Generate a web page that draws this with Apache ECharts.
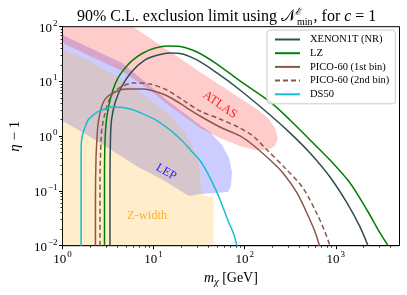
<!DOCTYPE html>
<html><head><meta charset="utf-8">
<script src="https://cdn.jsdelivr.net/npm/echarts@6/dist/echarts.min.js"></script>
<style>html,body{margin:0;padding:0;background:#fff}#c{width:407px;height:295px}</style>
</head><body><div id="c"></div><script>
// ---- data ----
const xenonX = [3.32,3.32,3.36,3.45,3.77,4.44,5.72,8.05,11.2,15.1,19.5,29.9,49.6,88.7,190,314,521,863,1327,1843,2255];
const xenonY = [0.01,0.158,0.853,1.98,4.04,7.92,14.9,24.7,30.4,33.1,32.4,24.7,14.3,6.98,2.44,1.15,0.493,0.180,0.0603,0.0220,0.01];
const lzX = [2.89,2.89,2.93,3.04,3.24,3.58,4.07,4.86,5.94,7.65,10.4,14.4,19.5,29.9,49.6,88.7,190,314,521,863,1432,2198,3055,3741];
const lzY = [0.01,0.158,0.853,1.98,3.72,6.98,11.6,17.6,24.7,33.1,40.8,44.4,43.5,34.5,20.8,10.2,4.22,1.98,0.853,0.367,0.140,0.0449,0.0171,0.01];
const pico1X = [2.30,2.30,2.33,2.39,2.45,2.58,2.78,3.08,3.58,4.28,5.11,7.65,11.8,16.3,23.3,32.3,53.5,88.7,123,190,263,375,521,592,662];
const pico1Y = [0.01,0.0684,0.367,0.927,1.60,2.65,4.04,5.20,6.15,6.98,7.28,7.28,6.15,4.78,3.27,2.34,1.47,1.01,0.691,0.367,0.213,0.0918,0.0295,0.0178,0.01];
const pico2X = [2.58,2.58,2.65,2.71,2.93,3.24,3.68,4.39,5.94,9.13,14.0,21.0,32.3,53.5,88.7,123,176,277,436,622,761,863];
const pico2Y = [0.01,0.158,0.853,1.41,2.65,4.58,6.41,7.92,9.37,8.98,6.98,4.58,2.89,2.06,1.41,1.01,0.56,0.263,0.113,0.038,0.0178,0.01];
const ds50X = [1.60,1.60,1.60,1.62,1.68,1.77,1.91,2.16,2.45,2.78,3.32,4.5,5.94,6.74,10.4,15.1,19.5,23.3,27,32.3,37,44.9,50.9,57.8,66,75,82];
const ds50Y = [0.01,0.1,0.5,0.85,1.15,1.47,1.98,2.4,2.8,3.05,3.4,3.35,3.05,2.8,2.0,1.3,0.9,0.66,0.5,0.36,0.25,0.135,0.085,0.05,0.028,0.017,0.01];

const atlasX = [1,5.94,11.8,32.3,88.7,140,180,215,232,215,180,130,88.7,53.5,32.3,22.1,14.0,9.13,4.50,2.0,1];
const atlasY = [100,100,46.3,14.9,4.99,3.01,2.15,1.41,0.927,0.662,0.560,0.560,0.662,0.927,1.41,2.24,3.87,6.98,15.5,29.2,50.4];
const lepX = [1,4.50,14.0,32.3,41.6,56.3,67.3,72.5,70.7,65.6,47.2,32.3,25.1,23.3,13.3,6.74,2.93,1.56,1];
const lepY = [70.4,21.7,4.58,1.60,1.19,0.691,0.400,0.222,0.123,0.0957,0.0918,0.0881,0.0809,0.0844,0.152,0.274,0.662,1.24,1.90];
const zX = [1,1.91,4.50,10.4,15.9,22.1,27.1,30.7,32.3,33.1,36.7,45.5,45.5,1];
const zY = [39.1,24.7,10.6,4.04,2.24,1.15,0.635,0.367,0.196,0.104,0.0809,0.0776,0.01,0.01];

const regionNames = ['ATLAS','LEP','Z-width'];
const regionLabelX = [53.5, 13.7, 8.47];
const regionLabelY = [3.72, 0.222, 0.0348];

const xMajor = [1,10,100,1000];
const yMajor = [0.01,0.1,1,10,100];
const xMinor = [2,3,4,5,6,7,8,9,20,30,40,50,60,70,80,90,200,300,400,500,600,700,800,900,2000,3000,4000];
const yMinor = [0.02,0.03,0.04,0.05,0.06,0.07,0.08,0.09,0.2,0.3,0.4,0.5,0.6,0.7,0.8,0.9,2,3,4,5,6,7,8,9,20,30,40,50,60,70,80,90];

// ---- chart ----
const SERIF = "'Liberation Serif','DejaVu Serif',serif";
const pairs = (xs, ys) => xs.map((x, i) => [x, ys[i]]);
const chart = echarts.init(document.getElementById('c'), null, {renderer: 'canvas'});

function polySeries(xs, ys, color, z) {
  return {
    type: 'custom', silent: true, z: z, clip: true,
    data: [[xs[0], ys[0]]],
    renderItem: function (params, api) {
      const pts = xs.map((x, i) => api.coord([x, ys[i]]));
      return {type: 'polygon', shape: {points: pts}, style: {fill: color}};
    }
  };
}

const labelColors = ['#ff2020', '#2020ff', '#ffb030'];
const labelRot = [-35, -30, 0];
const labelSize = [12.5, 12, 12.5];

function expLabel(v) {
  const e = Math.round(Math.log10(v));
  return '{b|10}{e|' + (e < 0 ? '\u2212' + (-e) : e) + '}';
}
const labelRich = {
  b: {fontFamily: SERIF, fontSize: 13, color: '#000', lineHeight: 16, verticalAlign: 'bottom'},
  e: {fontFamily: SERIF, fontSize: 9, color: '#000', lineHeight: 16, verticalAlign: 'top', padding: [0, 0, 0, 1]}
};
const T = {fontFamily: SERIF, color: '#000', fontWeight: 'normal', lineHeight: 20};

const lineBase = {type: 'line', symbol: 'none', smooth: 0.3, z: 3, silent: true, clip: true};
const noSym = {color: 'rgba(0,0,0,0)', borderWidth: 0, opacity: 0};

const option = {
  animation: false,
  title: {
    text: '{a|90% C.L. exclusion limit using }{n|\uD835\uDCA9}{e|\u2130}{m|min}{a|, for }{i|c}{a| = 1}',
    left: 72, top: 2,
    textStyle: {
      fontWeight: 'normal',
      rich: {
        a: Object.assign({}, T, {fontSize: 16, verticalAlign: 'middle'}),
        i: Object.assign({}, T, {fontSize: 16, fontStyle: 'italic', verticalAlign: 'middle'}),
        n: Object.assign({}, T, {fontSize: 16, verticalAlign: 'middle'}),
        e: Object.assign({}, T, {fontSize: 10, verticalAlign: 'top', width: 1}),
        m: Object.assign({}, T, {fontSize: 10, verticalAlign: 'bottom', padding: [0, 1, 0, 0]})
      }
    }
  },
  legend: {
    orient: 'vertical', left: 267, top: 30,
    data: ['XENON1T (NR)', 'LZ', 'PICO-60 (1st bin)', 'PICO-60 (2nd bin)', 'DS50'],
    itemWidth: 25, itemHeight: 10, itemGap: 2.7,
    padding: [4, 6, 4, 7],
    itemStyle: noSym,
    backgroundColor: 'rgba(255,255,255,0.8)', borderColor: '#cccccc', borderWidth: 1, borderRadius: 3,
    textStyle: {fontFamily: SERIF, fontSize: 10.5, color: '#000', padding: [0, 0, 0, 5]}
  },
  grid: {left: 62.5, right: 7.5, top: 26.7, bottom: 49.3, show: true, borderColor: '#000', borderWidth: 1, backgroundColor: 'transparent'},
  xAxis: [{
    type: 'log', logBase: 10, min: 1, max: 5000,
    name: '{i|m}{s|\u03C7}{n| [GeV]}', nameLocation: 'middle', nameGap: 24,
    nameTextStyle: {rich: {
      i: {fontFamily: SERIF, fontSize: 14, fontStyle: 'italic', color: '#000', lineHeight: 18, verticalAlign: 'middle'},
      s: {fontFamily: SERIF, fontSize: 10, fontStyle: 'italic', color: '#000', lineHeight: 18, verticalAlign: 'bottom'},
      n: {fontFamily: SERIF, fontSize: 14, color: '#000', lineHeight: 18, verticalAlign: 'middle'}
    }},
    axisLine: {show: true, lineStyle: {color: '#000', width: 1}},
    axisTick: {show: true, length: 3.5, inside: false, lineStyle: {color: '#000'}, customValues: xMajor},
    axisLabel: {show: true, margin: 4, formatter: expLabel, rich: labelRich, customValues: xMajor},
    splitLine: {show: false}, minorTick: {show: false}
  }, {
    type: 'log', logBase: 10, min: 1, max: 5000, position: 'bottom', gridIndex: 0,
    axisLine: {show: false},
    axisTick: {show: true, length: 2, inside: false, lineStyle: {color: '#000', width: 0.8}, customValues: xMinor},
    axisLabel: {show: false}, splitLine: {show: false}
  }],
  yAxis: [{
    type: 'log', logBase: 10, min: 0.01, max: 100,
    name: '{i|\u03B7}{n| \u2212 1}', nameLocation: 'middle', nameGap: 38, nameRotate: 90,
    nameTextStyle: {rich: {
      i: {fontFamily: SERIF, fontSize: 15, fontStyle: 'italic', color: '#000'},
      n: {fontFamily: SERIF, fontSize: 15, color: '#000'}
    }},
    axisLine: {show: true, lineStyle: {color: '#000', width: 1}},
    axisTick: {show: true, length: 3.5, inside: false, lineStyle: {color: '#000'}, customValues: yMajor},
    axisLabel: {show: true, margin: 5, formatter: expLabel, rich: labelRich, customValues: yMajor},
    splitLine: {show: false}, minorTick: {show: false}
  }, {
    type: 'log', logBase: 10, min: 0.01, max: 100, position: 'left', gridIndex: 0,
    axisLine: {show: false},
    axisTick: {show: true, length: 2, inside: false, lineStyle: {color: '#000', width: 0.8}, customValues: yMinor},
    axisLabel: {show: false}, splitLine: {show: false}
  }],
  series: [
    polySeries(lepX, lepY, 'rgba(0,0,255,0.2)', 1),
    polySeries(zX, zY, 'rgba(255,165,0,0.2)', 1),
    polySeries(atlasX, atlasY, 'rgba(255,0,0,0.2)', 1),
    {
      type: 'custom', silent: true, z: 2,
      data: pairs(regionLabelX, regionLabelY),
      renderItem: function (params, api) {
        const i = params.dataIndex;
        const p = api.coord([api.value(0), api.value(1)]);
        return {type: 'text', x: p[0], y: p[1], rotation: labelRot[i] * Math.PI / 180,
          style: {text: regionNames[i], fill: labelColors[i], align: 'center', verticalAlign: 'middle',
            font: labelSize[i] + "px " + SERIF}};
      }
    },
    Object.assign({}, lineBase, {name: 'XENON1T (NR)', data: pairs(xenonX, xenonY), lineStyle: {color: '#2f4f4f', width: 1.5}, itemStyle: noSym}),
    Object.assign({}, lineBase, {name: 'LZ', data: pairs(lzX, lzY), lineStyle: {color: '#008000', width: 1.5}, itemStyle: noSym}),
    Object.assign({}, lineBase, {name: 'PICO-60 (1st bin)', data: pairs(pico1X, pico1Y), lineStyle: {color: '#8c564b', width: 1.5}, itemStyle: noSym}),
    Object.assign({}, lineBase, {name: 'PICO-60 (2nd bin)', data: pairs(pico2X, pico2Y), lineStyle: {color: '#8c564b', width: 1.5, type: [5, 3]}, itemStyle: noSym}),
    Object.assign({}, lineBase, {name: 'DS50', data: pairs(ds50X, ds50Y), lineStyle: {color: '#17becf', width: 1.5}, itemStyle: noSym})
  ]
};
chart.setOption(option);
</script></body></html>
